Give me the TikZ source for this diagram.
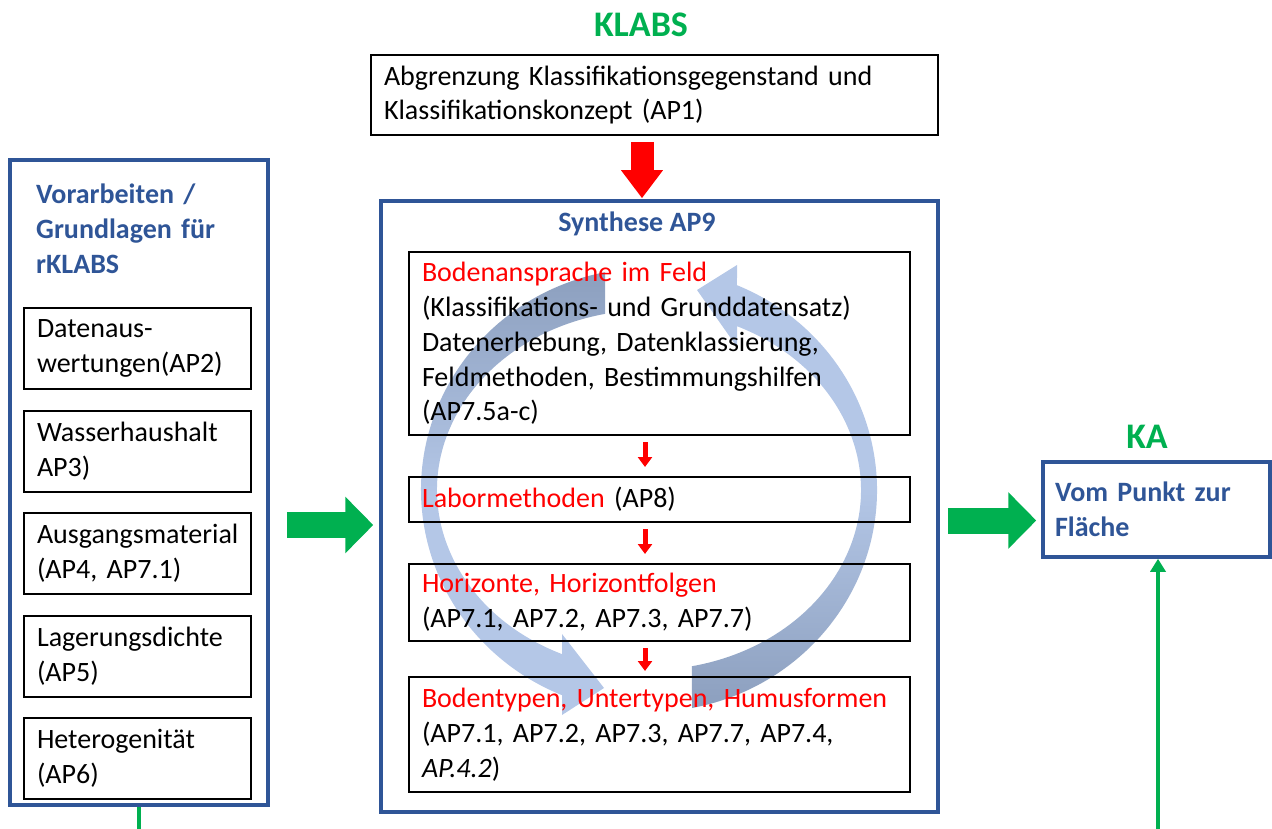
\documentclass[tikz,border=0pt]{standalone}
\usepackage{fontspec}
\setmainfont{Carlito}
\usepackage{tikz}
\usetikzlibrary{arrows.meta,positioning}
\definecolor{kblue}{RGB}{47,85,151}
\definecolor{kgreen}{RGB}{0,176,80}
\definecolor{arcdark}{RGB}{140,159,190}
\definecolor{arclight}{RGB}{180,199,231}

\begin{document}
\begin{tikzpicture}[x=1pt, y=-1pt,
                every node/.append style={font=\fontsize{28}{34.8}\selectfont},
                box/.style={draw, line width=2pt, inner xsep=13pt, inner ysep=0pt, align=left},
                lbox/.style={box, minimum width=227pt, minimum height=81pt, text width=201pt},
                sbox/.style={box, minimum width=501pt, text width=475pt},
                grp/.style={draw=kblue, line width=3.5pt, inner sep=0pt},
                ttl/.style={text=kgreen, font=\fontsize{36}{43}\selectfont\bfseries},
                hd/.style={text=kblue, font=\fontsize{28}{34.8}\selectfont\bfseries, inner sep=0pt, align=left},
                bigr/.style={red, line width=23pt, -{Triangle[width=40pt,length=28pt]}, shorten <=6pt, shorten >=1pt},
                rarr/.style={red, line width=5pt, -{Triangle[width=14pt,length=10pt]}, shorten <=6pt, shorten >=9pt},
                garr/.style={kgreen, line width=26pt, -{Triangle[width=55pt,length=28pt]}},
                gline/.style={kgreen, line width=4pt}]

\useasboundingbox (0,0) rectangle (1272,829);

% cycle arrows behind the work packages
\shade[top color=arcdark, bottom color=arclight, middle color=arclight]
    (605,272.2) arc[start angle=258.87, end angle=112.43, x radius=228, y radius=222]
    -- (562,715) -- (604,688) -- (562,634) -- (562,654.1)
    arc[start angle=114.23, end angle=258.02, x radius=212, y radius=180] -- cycle;
\shade[top color=arclight, bottom color=arcdark, middle color=arclight]
    (692,708) arc[start angle=79.13, end angle=-67.30, x radius=228, y radius=222]
    -- (737,265) -- (697,290) -- (737,347) -- (737,326.2)
    arc[start angle=-65.47, end angle=78.30, x radius=212, y radius=180] -- cycle;

% top
\node[ttl] (klabs) at (641,25) {KLABS};
\node[box, minimum width=567pt, minimum height=80pt, text width=541pt] (ap1) at (654.5,95)
    {Abgrenzung Klassifikationsgegenstand und\\Klassifikationskonzept (AP1)};

% left group
\node[grp, minimum width=258pt, minimum height=645pt] (vor) at (139,482.5) {};
\node[hd, text width=220pt, anchor=north west] (vortxt) at (36,184) {Vorarbeiten /\\Grundlagen für\\rKLABS};
\node[lbox] (ap2) at (137.5,348.5) {Datenaus-\\wertungen(AP2)};
\node[lbox, below=19.5pt of ap2] (ap3) {Wasserhaushalt\\AP3)};
\node[lbox, below=19.5pt of ap3] (ap4) {Ausgangsmaterial\\(AP4, AP7.1)};
\node[lbox, below=19.5pt of ap4] (ap5) {Lagerungsdichte\\(AP5)};
\node[lbox, below=19.5pt of ap5] (ap6) {Heterogenität\\(AP6)};

% synthesis
\node[grp, minimum width=557pt, minimum height=611pt] (syn) at (659.5,506.5) {};
\node[hd] (syntxt) at (637,224) {Synthese AP9};
\node[sbox, minimum height=183pt] (ap75) at (659.5,343.5)
    {{\color{red}Bodenansprache im Feld}\\(Klassifikations- und Grunddatensatz)\\Datenerhebung, Datenklassierung,\\Feldmethoden, Bestimmungshilfen\\(AP7.5a-c)};
\node[sbox, minimum height=45pt, below=40pt of ap75] (ap8) {{\color{red}Labormethoden} (AP8)};
\node[sbox, minimum height=77pt, below=40pt of ap8] (hor)
    {{\color{red}Horizonte, Horizontfolgen}\\(AP7.1, AP7.2, AP7.3, AP7.7)};
\node[sbox, minimum height=115pt, below=34pt of hor] (typ)
    {{\color{red}Bodentypen, Untertypen, Humusformen}\\(AP7.1, AP7.2, AP7.3, AP7.7, AP7.4,\\\textit{AP.4.2})};

% KA
\node[ttl] (katxt) at (1147,437) {KA};
\node[grp, text=kblue, font=\fontsize{28}{34.8}\selectfont\bfseries, align=left, inner xsep=12pt,
      text width=203pt, minimum width=227pt, minimum height=95pt] (ka) at (1156.5,509.5) {Vom Punkt zur\\Fläche};

% arrows
\coordinate (mid) at (642,0);
\coordinate (col) at (645,0);
\coordinate (gl) at (0,525);
\coordinate (gr) at (0,520.5);
\coordinate (gbl) at (139,835);
\coordinate (gbr) at (1158,835);

\draw[bigr] (ap1.south -| mid) -- (syn.north -| mid);
\draw[rarr] (ap75.south -| col) -- (ap8.north -| col);
\draw[rarr] (ap8.south -| col) -- (hor.north -| col);
\draw[rarr, shorten >=5pt] (hor.south -| col) -- (typ.north -| col);

\draw[garr, shorten <=17pt, shorten >=6pt] (vor.east |- gl) -- (syn.west |- gl);
\draw[garr, shorten <=8pt, shorten >=5pt] (syn.east |- gr) -- (ka.west |- gr);

\draw[gline] (vor.south) -- (gbl);
\draw[gline, -{Triangle[width=15pt,length=13pt]}] (gbr) -- (ka.south -| gbr);

\end{tikzpicture}
\end{document}
